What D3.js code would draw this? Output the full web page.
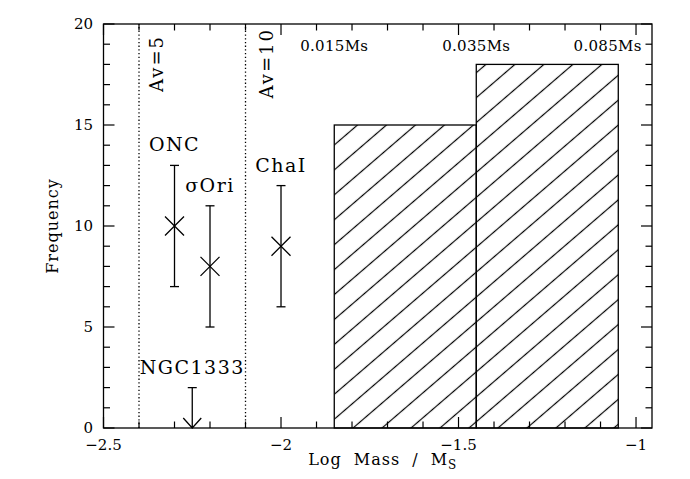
<!DOCTYPE html>
<html>
<head>
<meta charset="utf-8">
<script src="https://cdn.jsdelivr.net/npm/d3@7"></script>
<style>
  body { margin: 0; background: #fff; }
  text { font-family: "DejaVu Serif", serif; fill: #000; }
</style>
</head>
<body>
<script>
const width = 690;
const height = 479;

// histogram of brown dwarf candidates
const binEdges = [-1.85, -1.45, -1.05];
const binCounts = [15, 18];

// cluster estimates with error bars
const clusterNames = ["ONC", "σOri", "ChaI"];
const clusterX = [-2.3, -2.2, -2.0];
const clusterY = [10, 8, 9];
const clusterLo = [7, 5, 6];
const clusterHi = [13, 11, 12];

// upper limit
const limitName = "NGC1333";
const limitX = -2.25;
const limitY = 2;

// extinction limits
const avX = [-2.4, -2.1];
const avLabels = ["Av=5", "Av=10"];

// mass labels along the top
const massLabels = ["0.015Ms", "0.035Ms", "0.085Ms"];
const massLabelX = [-1.85, -1.45, -1.08];

const xTicks = [-2.5, -2, -1.5, -1];
const yTicks = [0, 5, 10, 15, 20];

const x = d3.scaleLinear().domain([-2.5, -0.955]).range([103.5, 652]);
const y = d3.scaleLinear().domain([0, 20]).range([428, 24]);

const svg = d3.select("body")
  .append("svg")
  .attr("width", width)
  .attr("height", height);

// hatch pattern, lines rising to the right
const spacing = 18.9;
svg.append("defs")
  .append("pattern")
  .attr("id", "hatch")
  .attr("patternUnits", "userSpaceOnUse")
  .attr("width", 20)
  .attr("height", spacing)
  .attr("patternTransform", `translate(356.7,125.7) rotate(-40.7) translate(0,${-spacing / 2})`)
  .append("line")
  .attr("x1", -1).attr("x2", 21)
  .attr("y1", spacing / 2).attr("y2", spacing / 2)
  .attr("stroke", "#000")
  .attr("stroke-width", 1.2);

const bins = binCounts.map((c, i) => ({ x0: binEdges[i], x1: binEdges[i + 1], c }));

svg.append("g")
  .selectAll("rect")
  .data(bins)
  .join("rect")
  .attr("x", d => x(d.x0))
  .attr("y", d => y(d.c))
  .attr("width", d => x(d.x1) - x(d.x0))
  .attr("height", d => y(0) - y(d.c))
  .attr("fill", "url(#hatch)")
  .attr("stroke", "#000")
  .attr("stroke-width", 1.3);

// dotted extinction lines
svg.append("g")
  .selectAll("line")
  .data(avX)
  .join("line")
  .attr("x1", d => x(d)).attr("x2", d => x(d))
  .attr("y1", y(0)).attr("y2", y(20))
  .attr("stroke", "#000")
  .attr("stroke-width", 1.3)
  .attr("stroke-dasharray", "1.3,2.4");

const avOffset = [24, 27];
const avTop = [35, 28];
svg.append("g")
  .selectAll("text")
  .data(avLabels)
  .join("text")
  .attr("transform", (d, i) => `translate(${x(avX[i]) + avOffset[i]},${avTop[i]}) rotate(-90)`)
  .attr("text-anchor", "end")
  .attr("font-size", 18)
  .attr("letter-spacing", 2)
  .text(d => d);

svg.append("g")
  .selectAll("text")
  .data(massLabels)
  .join("text")
  .attr("x", (d, i) => x(massLabelX[i]))
  .attr("y", 51)
  .attr("text-anchor", "middle")
  .attr("font-size", 15)
  .attr("letter-spacing", 0.3)
  .text(d => d);

// error bars and crosses
const pts = clusterNames.map((name, i) => ({
  name, x: clusterX[i], y: clusterY[i], lo: clusterLo[i], hi: clusterHi[i]
}));
const cap = 4.5;
const cross = 9.5;

const pg = svg.append("g")
  .attr("stroke", "#000")
  .attr("stroke-width", 1.3)
  .attr("fill", "none");

pts.forEach(d => {
  const cx = x(d.x);
  pg.append("line").attr("x1", cx).attr("x2", cx).attr("y1", y(d.lo)).attr("y2", y(d.hi));
  pg.append("line").attr("x1", cx - cap).attr("x2", cx + cap).attr("y1", y(d.lo)).attr("y2", y(d.lo));
  pg.append("line").attr("x1", cx - cap).attr("x2", cx + cap).attr("y1", y(d.hi)).attr("y2", y(d.hi));
  pg.append("path")
    .attr("d", `M${cx - cross},${y(d.y) - cross}L${cx + cross},${y(d.y) + cross}M${cx - cross},${y(d.y) + cross}L${cx + cross},${y(d.y) - cross}`);
});

// upper limit arrow
const lx = x(limitX);
pg.append("path")
  .attr("d", `M${lx - cap},${y(limitY)}H${lx + cap}M${lx},${y(limitY)}V${y(0)}M${lx - 9},${y(0) - 10}L${lx},${y(0)}L${lx + 9},${y(0) - 10}`);

svg.append("g")
  .selectAll("text")
  .data(pts.map(d => ({ name: d.name, x: d.x, top: d.hi })).concat([{ name: limitName, x: limitX, top: limitY }]))
  .join("text")
  .attr("x", d => x(d.x))
  .attr("y", d => y(d.top) - 14)
  .attr("text-anchor", "middle")
  .attr("font-size", 19)
  .attr("letter-spacing", 1.5)
  .text(d => d.name);

// frame and ticks on all four sides
const x0 = x.range()[0], x1 = x.range()[1];
const y0 = y.range()[0], y1 = y.range()[1];

const tg = svg.append("g").attr("stroke", "#000").attr("stroke-width", 1.2);

const xMinor = d3.range(-2.5, -0.955, 0.1).map(v => +v.toFixed(2));
const yMinor = d3.range(0, 20.01, 1);

xMinor.forEach(v => {
  const len = xTicks.some(t => Math.abs(t - v) < 1e-6) ? 11 : 6.5;
  tg.append("line").attr("x1", x(v)).attr("x2", x(v)).attr("y1", y0).attr("y2", y0 - len);
  tg.append("line").attr("x1", x(v)).attr("x2", x(v)).attr("y1", y1).attr("y2", y1 + len);
});
yMinor.forEach(v => {
  const len = yTicks.includes(v) ? 11 : 6.5;
  tg.append("line").attr("x1", x0).attr("x2", x0 + len).attr("y1", y(v)).attr("y2", y(v));
  tg.append("line").attr("x1", x1).attr("x2", x1 - len).attr("y1", y(v)).attr("y2", y(v));
});

svg.append("rect")
  .attr("x", x0).attr("y", y1)
  .attr("width", x1 - x0).attr("height", y0 - y1)
  .attr("fill", "none")
  .attr("stroke", "#000")
  .attr("stroke-width", 1.3);

const fmt = v => String(v).replace("-", "\u2212");

svg.append("g")
  .selectAll("text")
  .data(xTicks)
  .join("text")
  .attr("x", d => x(d))
  .attr("y", 450)
  .attr("text-anchor", "middle")
  .attr("font-size", 15)
  .text(fmt);

svg.append("g")
  .selectAll("text")
  .data(yTicks)
  .join("text")
  .attr("x", 93)
  .attr("y", d => y(d))
  .attr("dy", "0.36em")
  .attr("text-anchor", "end")
  .attr("font-size", 15)
  .text(fmt);

const xl = svg.append("text")
  .attr("x", (x0 + x1) / 2 + 5)
  .attr("y", 465)
  .attr("text-anchor", "middle")
  .attr("font-size", 16)
  .attr("letter-spacing", 1)
  .attr("word-spacing", 6);
xl.append("tspan").text("Log Mass / M");
xl.append("tspan").attr("font-size", 12).attr("dy", 4).text("S");

svg.append("text")
  .attr("transform", `translate(58,${(y0 + y1) / 2}) rotate(-90)`)
  .attr("text-anchor", "middle")
  .attr("font-size", 16)
  .attr("letter-spacing", 1)
  .text("Frequency");
</script>
</body>
</html>
